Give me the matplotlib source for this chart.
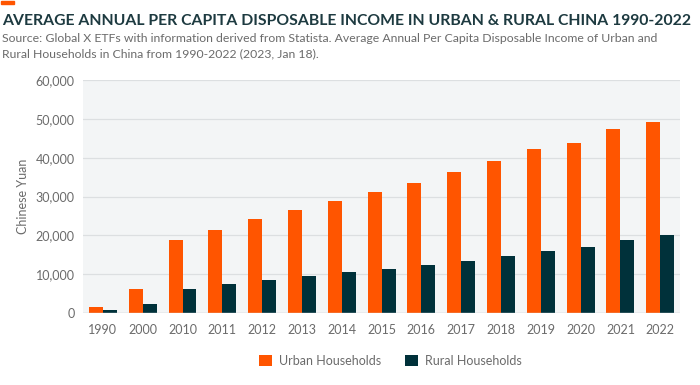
import matplotlib
matplotlib.use("Agg")
import matplotlib.pyplot as plt
import matplotlib.patches as mpatches
import numpy as np

# datos
years = ["1990", "2000", "2010", "2011", "2012", "2013", "2014", "2015",
         "2016", "2017", "2018", "2019", "2020", "2021", "2022"]
urban = [1510, 6280, 18779, 21427, 24127, 26467, 28844, 31195,
         33616, 36396, 39251, 42359, 43834, 47412, 49283]
rural = [686, 2253, 6272, 7394, 8389, 9430, 10489, 11422,
         12363, 13432, 14617, 16021, 17131, 18931, 20133]

ORANGE = "#ff5500"
DARK = "#00313a"
GRAY = "#6b6b6b"

plt.rcParams["font.family"] = ["Lato", "DejaVu Sans"]

fig = plt.figure(figsize=(7, 3.85), dpi=100)
ax = fig.add_axes([0.1186, 0.187, 0.853, 0.605])

x = np.arange(len(years))
w = 0.35
ax.bar(x - w / 2, urban, w, color=ORANGE, label="Urban Households", zorder=3)
ax.bar(x + w / 2, rural, w, color=DARK, label="Rural Households", zorder=3)

ax.set_facecolor("#f3f5f6")
ax.set_ylim(0, 60000)
ax.set_xlim(-0.5, len(years) - 0.5)
ax.set_yticks(range(0, 60001, 10000))
ax.set_yticklabels([f"{v:,}" for v in range(0, 60001, 10000)])
ax.set_xticks(x)
ax.set_xticklabels(years)
ax.tick_params(axis="both", length=0, colors=GRAY, labelsize=9)
ax.tick_params(axis="x", pad=8)
ax.tick_params(axis="y", pad=6)
ax.grid(axis="y", color="#dcdfe1", linewidth=0.9, zorder=0)
for s in ax.spines.values():
    s.set_visible(False)
ax.axhline(0, color="#cfd3d6", linewidth=1, zorder=4)
ax.set_ylabel("Chinese Yuan", color=GRAY, fontsize=9, labelpad=5)

ax.legend(loc="upper center", bbox_to_anchor=(0.515, -0.13), ncol=2, frameon=False,
          fontsize=9, labelcolor=GRAY, handlelength=1.0, handleheight=1.0,
          columnspacing=1.9, handletextpad=0.6)

# barrita naranja arriba
fig.patches.append(mpatches.Rectangle((0.0015, 0.9896), 0.018, 0.0085, transform=fig.transFigure,
                                      color=ORANGE, zorder=5))

fig.text(0.003, 0.945, "AVERAGE ANNUAL PER CAPITA DISPOSABLE INCOME IN URBAN & RURAL CHINA 1990-2022",
         fontsize=11.3, fontweight="bold", color="#1d3a40", va="center")
fig.text(0.003, 0.900, "Source: Global X ETFs with information derived from Statista. Average Annual Per Capita Disposable Income of Urban and",
         fontsize=8.8, color=GRAY, va="center")
fig.text(0.003, 0.860, "Rural Households in China from 1990-2022 (2023, Jan 18).",
         fontsize=8.8, color=GRAY, va="center")

fig.savefig("out.png", dpi=100)
